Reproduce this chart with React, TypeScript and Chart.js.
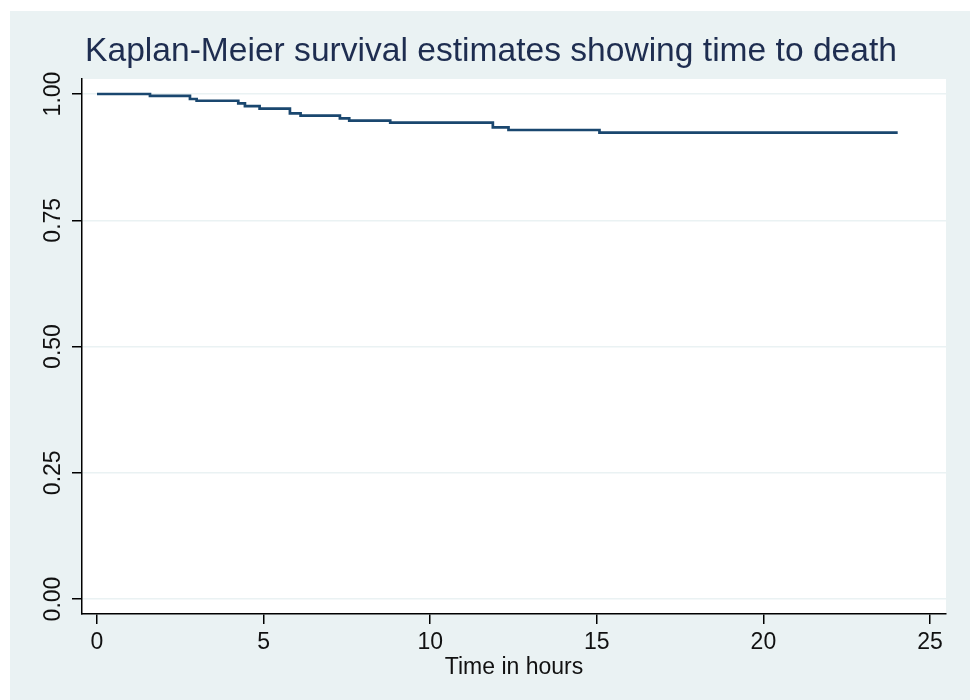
import React, { useEffect, useRef } from "react";
import { Chart, registerables } from "chart.js";

Chart.register(...registerables);

const chartTitle = "Kaplan-Meier survival estimates showing time to death";
const xAxisTitle = "Time in hours";
const times = [0, 1.59, 2.79, 2.99, 4.24, 4.44, 4.88, 5.79, 6.11, 7.29, 7.57, 8.8, 11.88, 12.35, 15.08, 24.03];
const survival = [1.0, 0.9964, 0.9901, 0.9867, 0.9816, 0.9762, 0.9709, 0.9618, 0.9574, 0.9519, 0.9475, 0.9432, 0.9338, 0.9287, 0.9236, 0.9236];
const xTicks = [0, 5, 10, 15, 20, 25];
const yTicks = [0, 0.25, 0.5, 0.75, 1];
const yTickLabels = ["0.00", "0.25", "0.50", "0.75", "1.00"];

const BG = "#eaf2f3";
const LINE = "#1a476f";
const FONT = "'Liberation Sans', Arial, Helvetica, sans-serif";

const bgPlugin = {
  id: "stataBg",
  beforeDraw(chart: any) {
    const { ctx, width, height, chartArea } = chart;
    ctx.save();
    ctx.fillStyle = "#ffffff";
    ctx.fillRect(0, 0, width, height);
    ctx.fillStyle = BG;
    ctx.fillRect(10, 11, width - 10, height - 11);
    ctx.fillStyle = "#ffffff";
    ctx.fillRect(chartArea.left, chartArea.top, chartArea.right - chartArea.left, chartArea.bottom - chartArea.top);
    ctx.restore();
  },
  afterDraw(chart: any) {
    const { ctx } = chart;
    const ys = chart.scales.y;
    ctx.save();
    ctx.fillStyle = "#111111";
    ctx.font = `23px ${FONT}`;
    ctx.textAlign = "center";
    ctx.textBaseline = "middle";
    yTicks.forEach((v, i) => {
      const py = ys.getPixelForValue(v);
      ctx.save();
      ctx.translate(54, py);
      ctx.rotate(-Math.PI / 2);
      ctx.fillText(yTickLabels[i], 0, 0);
      ctx.restore();
    });
    ctx.restore();
  },
};

export default function App() {
  const ref = useRef<HTMLCanvasElement | null>(null);
  useEffect(() => {
    document.body.style.margin = "0";
    const canvas = ref.current;
    if (!canvas) return;
    const chart = new Chart(canvas, {
      type: "line",
      data: {
        datasets: [
          {
            label: "Survival",
            data: times.map((t, i) => ({ x: t, y: survival[i] })),
            borderColor: LINE,
            borderWidth: 2.7,
            pointRadius: 0,
            stepped: true,
            fill: false,
          },
        ],
      },
      options: {
        animation: false,
        responsive: false,
        layout: { padding: { left: 36, right: 24, top: 0, bottom: 0 } },
        plugins: {
          legend: { display: false },
          tooltip: { enabled: false },
          title: {
            display: true,
            text: chartTitle,
            color: "#1e2d50",
            font: { family: FONT, size: 33.6, weight: "normal", lineHeight: 1.2 },
            padding: { top: 32, bottom: 6.7 },
          },
        },
        scales: {
          x: {
            type: "linear",
            min: -0.45,
            max: 25.48,
            afterBuildTicks: (scale: any) => {
              scale.ticks = xTicks.map((v) => ({ value: v }));
            },
            afterFit: (scale: any) => {
              scale.height = 86;
            },
            ticks: {
              color: "#111111",
              font: { family: FONT, size: 23 },
              padding: 5,
              maxRotation: 0,
              minRotation: 0,
              callback: (v: any) => String(v),
            },
            grid: {
              color: "rgba(0,0,0,0)",
              tickColor: "#000000",
              tickLength: 10,
              lineWidth: 1.5,
            },
            border: { display: true, color: "#000000", width: 1.5 },
            title: {
              display: true,
              text: xAxisTitle,
              color: "#111111",
              font: { family: FONT, size: 23 },
              padding: { top: 0, bottom: 19 },
            },
          },
          y: {
            type: "linear",
            min: -0.0297,
            max: 1.0297,
            afterBuildTicks: (scale: any) => {
              scale.ticks = yTicks.map((v) => ({ value: v }));
            },
            afterFit: (scale: any) => {
              scale.width = 46;
            },
            ticks: { display: false },
            grid: {
              color: BG,
              tickColor: "#000000",
              tickLength: 10,
              lineWidth: 1.5,
            },
            border: { display: true, color: "#000000", width: 1.5 },
          },
        },
      },
      plugins: [bgPlugin],
    });
    return () => chart.destroy();
  }, []);
  return (
    <div style={{ position: "absolute", left: 0, top: 0, width: 970, height: 700 }}>
      <canvas ref={ref} width={970} height={700} />
    </div>
  );
}
